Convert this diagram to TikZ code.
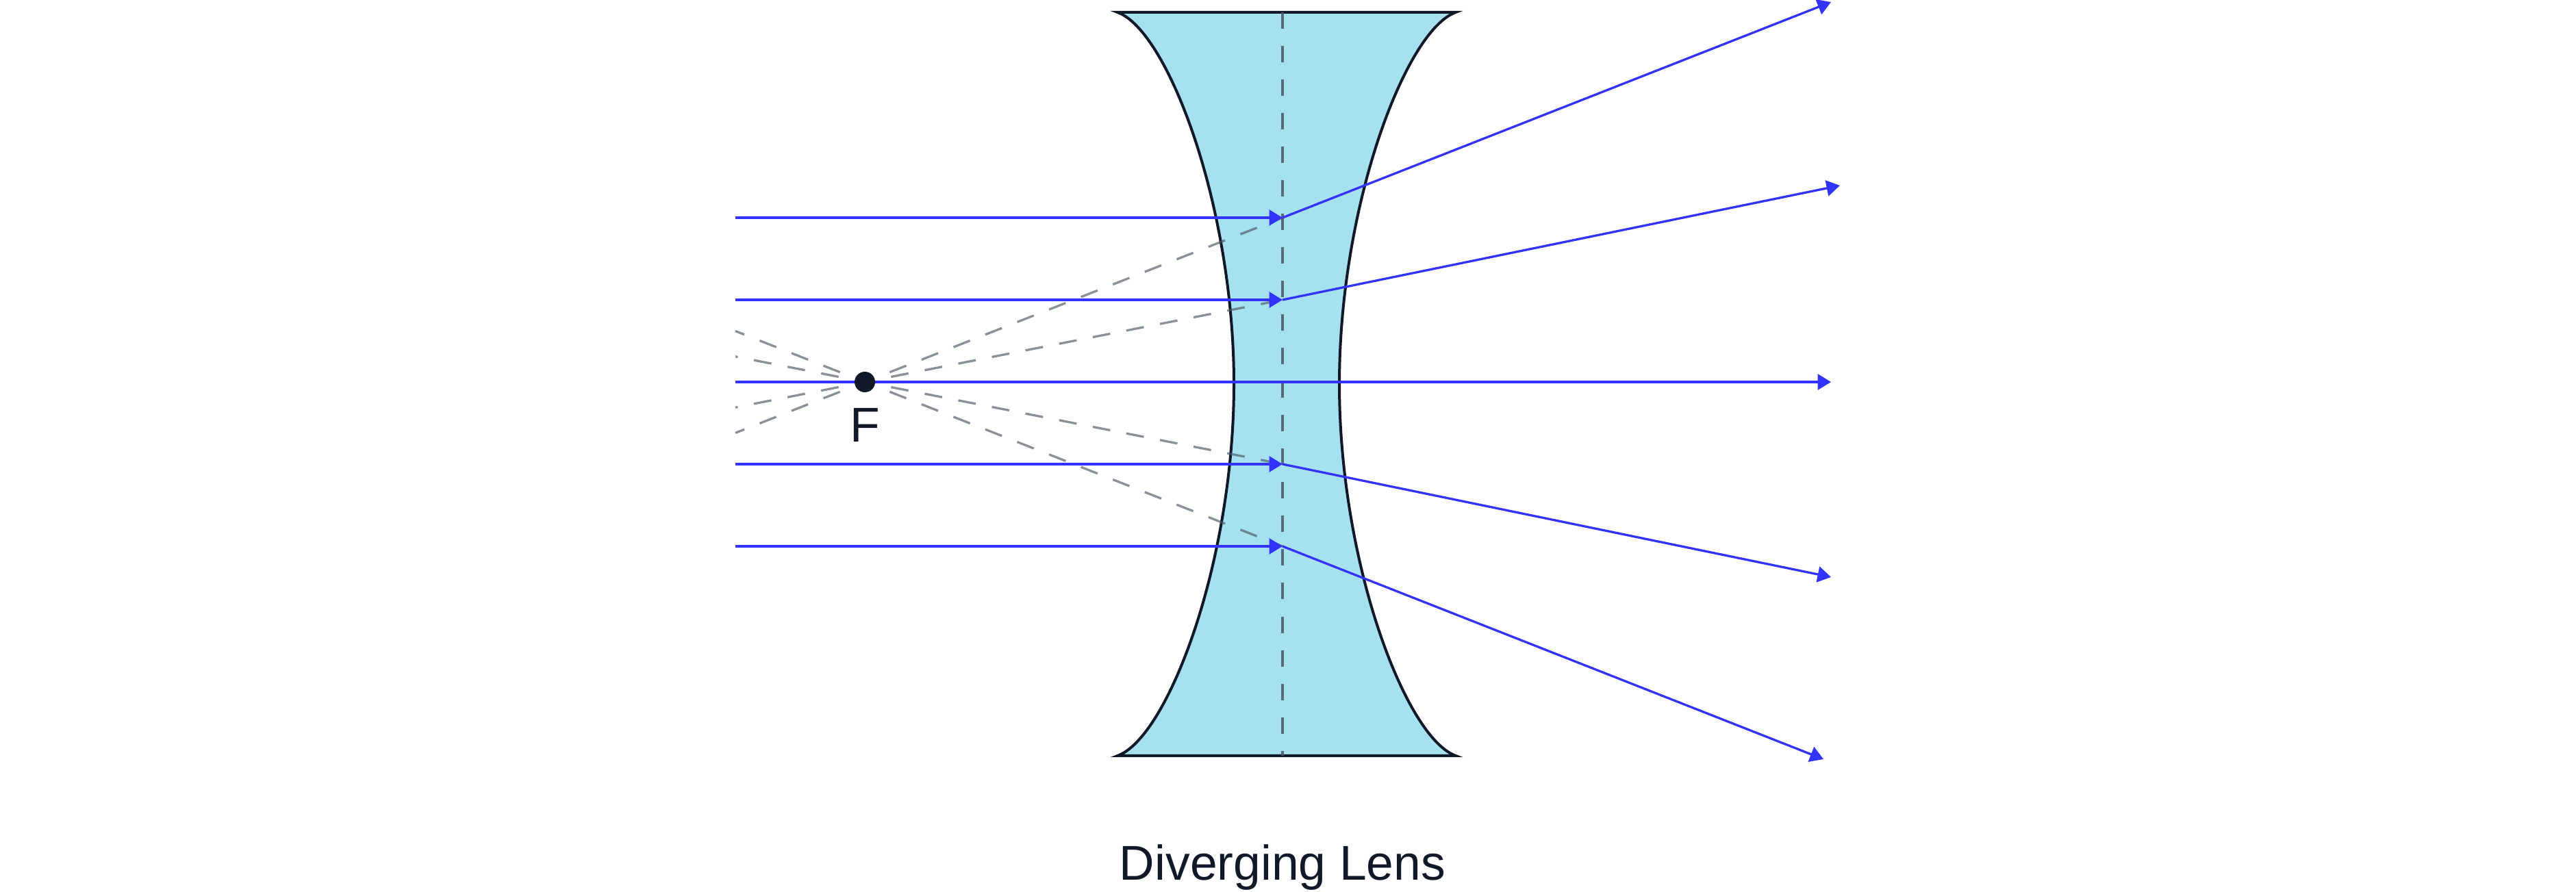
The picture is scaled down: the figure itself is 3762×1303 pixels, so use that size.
\documentclass[tikz,border=0pt]{standalone}
\usepackage{tikz}
\usepackage{xcolor}
\usepackage{fontspec}
\setmainfont{Liberation Sans}
\usetikzlibrary{arrows.meta,positioning}

\definecolor{raycol}{RGB}{51,51,255}
\definecolor{glass}{RGB}{166,225,240}
\definecolor{ink}{RGB}{17,24,39}
\definecolor{slate}{RGB}{75,85,99}

\begin{document}
\begin{tikzpicture}[x=0.01cm, y=0.01cm,
    ray/.style={raycol, line width=0.033cm},
    tip/.style={-{Triangle[length=0.195cm, width=0.23cm]}},
    virtual/.style={slate, opacity=0.65, line width=0.033cm, dash pattern=on 0.26cm off 0.24cm, dash phase=0.26cm, shorten <=0.15cm},
    label/.style={inner sep=0, text=ink, font=\fontsize{20.3}{24}\selectfont}]
    \useasboundingbox (0,0) rectangle (3762,1303);
    % lens
    \filldraw[fill=glass, draw=ink, line width=0.04cm] (1632,1285)
      .. controls (1705,1259) and (1802,1003) .. (1802,742)
      .. controls (1802,481) and (1705,225) .. (1632,199) -- (2126,199)
      .. controls (2053,225) and (1956,481) .. (1956,742)
      .. controls (1956,1003) and (2053,1259) .. (2126,1285) -- cycle;
    \draw[slate, opacity=0.85, line width=0.033cm, dash pattern=on 0.24cm off 0.25cm] (1873,1285) -- (1873,199);

    \coordinate (F) at (1263,745);
    \coordinate (a1) at (1074,985); \coordinate (r1) at (1873,985); \coordinate (b1) at (2674,1300); \coordinate (v1) at (1074,670.6);
    \coordinate (a2) at (1074,865); \coordinate (r2) at (1873,865); \coordinate (b2) at (2687,1032); \coordinate (v2) at (1074,707.8);
    \coordinate (a3) at (1074,745); \coordinate (b3) at (2674,745);
    \coordinate (a4) at (1074,625); \coordinate (r4) at (1873,625); \coordinate (b4) at (2674,460); \coordinate (v4) at (1074,782.2);
    \coordinate (a5) at (1074,505); \coordinate (r5) at (1873,505); \coordinate (b5) at (2663,194); \coordinate (v5) at (1074,819.4);

    % virtual rays through F
    \draw[virtual] (F) -- (r1); \draw[virtual] (F) -- (v1);
    \draw[virtual] (F) -- (r2); \draw[virtual] (F) -- (v2);
    \draw[virtual] (F) -- (r4); \draw[virtual] (F) -- (v4);
    \draw[virtual] (F) -- (r5); \draw[virtual] (F) -- (v5);

    % rays
    \draw[ray, tip] (a1) -- (r1); \draw[ray, tip] (r1) -- (b1);
    \draw[ray, tip] (a2) -- (r2); \draw[ray, tip] (r2) -- (b2);
    \draw[ray, tip] (a3) -- (b3);
    \draw[ray, tip] (a4) -- (r4); \draw[ray, tip] (r4) -- (b4);
    \draw[ray, tip] (a5) -- (r5); \draw[ray, tip] (r5) -- (b5);

    \node[circle, fill=ink, inner sep=0, minimum size=0.3cm] (Fdot) at (F) {};
    \node[label, below=0.22cm of Fdot] (Flabel) {F};
    \node[label, anchor=base] (caption) at (1873,17) {Diverging Lens};
\end{tikzpicture}
\end{document}
